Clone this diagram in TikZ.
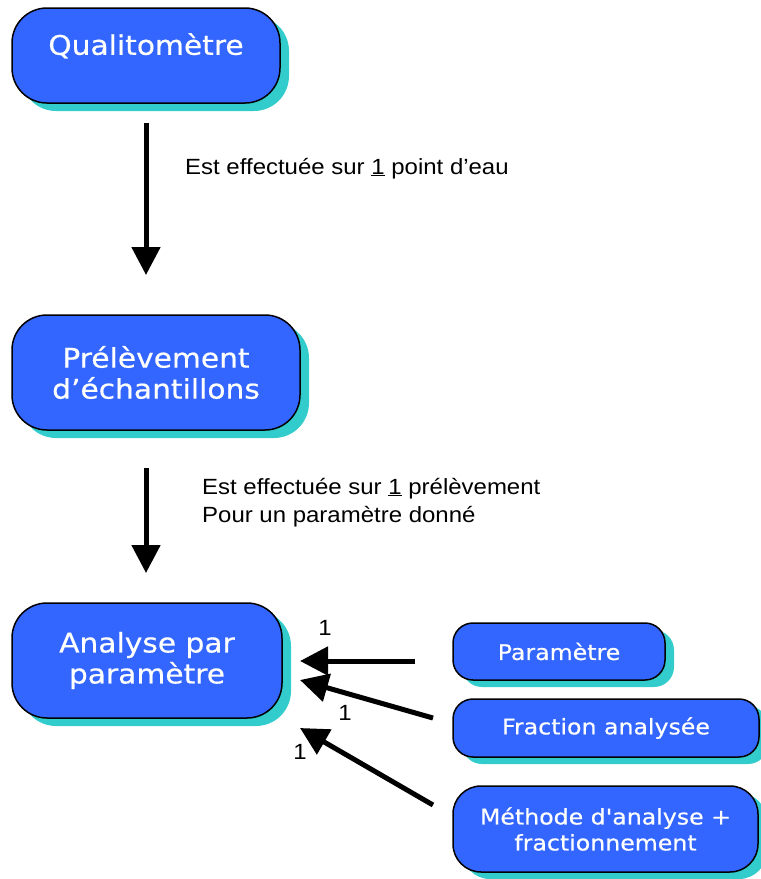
\documentclass[tikz,border=0pt]{standalone}
\usepackage{fontspec}
\usetikzlibrary{arrows.meta,shadows}
\newfontfamily\boxfont[FakeStretch=1.1,FakeBold=0.5]{DejaVu Sans}
\newfontfamily\lblfont[FakeStretch=1.09]{Liberation Sans}
\definecolor{boxblue}{HTML}{3366FF}
\definecolor{shadowc}{HTML}{33CCCC}
\tikzset{
  bigbox/.style={draw=black, line width=1.5pt, fill=boxblue, rounded corners=35pt,
    text=white, align=center, inner sep=0pt,
    font=\boxfont\fontsize{27}{31}\selectfont,
    drop shadow={shadow xshift=9pt, shadow yshift=-8pt, fill=shadowc, opacity=1}},
  smallbox/.style={draw=black, line width=1.5pt, fill=boxblue, rounded corners=20pt,
    text=white, align=center, inner sep=0pt,
    font=\boxfont\fontsize{21.5}{26}\selectfont,
    drop shadow={shadow xshift=9pt, shadow yshift=-7pt, fill=shadowc, opacity=1}},
  lbl/.style={font=\lblfont\fontsize{22}{28.5}\selectfont, align=left, inner sep=0pt, text=black},
  flow/.style={line width=5pt, -{Triangle[length=28pt,width=28pt]}}
}
\begin{document}
\begin{tikzpicture}[x=1pt,y=-1pt]
\useasboundingbox (0,0) rectangle (761,879);
% boxes
\node[bigbox, minimum width=268pt, minimum height=95pt] (q) at (146,55.5) {Qualitomètre\\[-8pt]\mbox{}};
\node[bigbox, minimum width=288pt, minimum height=115pt] (p) at (156,372.5) {Prélèvement\\d’échantillons};
\node[bigbox, minimum width=270pt, minimum height=115pt] (a) at (147,660.5) {Analyse par\\paramètre};
\node[smallbox, minimum width=212pt, minimum height=57pt] (par) at (559,651.5) {Paramètre};
\node[smallbox, minimum width=306pt, minimum height=58pt] (fr) at (606,728) {Fraction analysée};
\node[smallbox, minimum width=305pt, minimum height=86pt, rounded corners=28pt] (me) at (605.5,829) {Méthode d'analyse +\\fractionnement};
% arrow end points
\coordinate (a1s) at (146,123);
\coordinate (a1e) at (146,275);
\coordinate (a2s) at (146,468);
\coordinate (a2e) at (146,573);
\coordinate (a3s) at (415,661);
\coordinate (a3e) at (300,661);
\coordinate (a4s) at (433,718);
\coordinate (a4e) at (300,680);
\coordinate (a5s) at (433,805);
\coordinate (a5e) at (300,728);
\draw[flow] (a1s) -- (a1e);
\draw[flow] (a2s) -- (a2e);
\draw[flow] (a3s) -- (a3e);
\draw[flow] (a4s) -- (a4e);
\draw[flow] (a5s) -- (a5e);
% labels
\node[lbl, anchor=base west] (l1) at (185,174) {Est effectuée sur \underline{1} point d’eau};
\node[lbl, anchor=base west] (l2) at (202,522.5) {Est effectuée sur \underline{1} prélèvement\\Pour un paramètre donné};
\node[lbl] (n1) at (325,628) {1};
\node[lbl] (n2) at (345,713) {1};
\node[lbl] (n3) at (300,752) {1};
\end{tikzpicture}
\end{document}
